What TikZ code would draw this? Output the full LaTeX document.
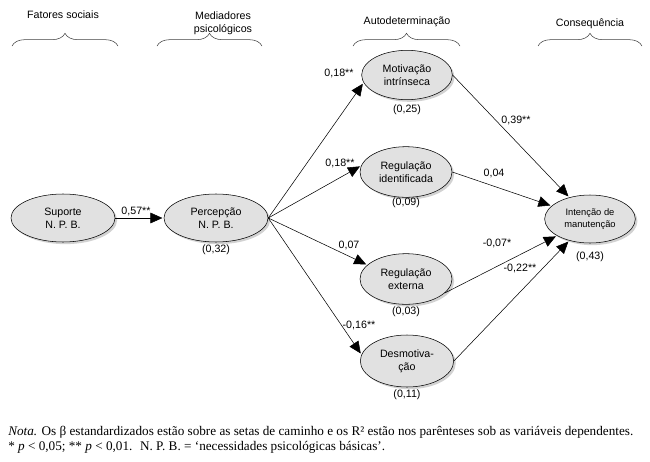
\documentclass[tikz,border=0pt]{standalone}
\usepackage{fontspec}
\setmainfont{Liberation Sans}
\newfontfamily\notefont{Liberation Serif}
\usepackage{tikz}
\usetikzlibrary{positioning,arrows.meta,shapes.geometric,shadows,decorations.pathreplacing}
\definecolor{latent}{RGB}{225,225,225}
\definecolor{shade}{RGB}{165,165,165}
\tikzset{
  var/.style={ellipse, draw, thin, fill=latent, align=center, inner sep=1pt,
    font=\fontsize{8}{9.5}\selectfont,
    drop shadow={shadow xshift=1.6pt, shadow yshift=-1.6pt, fill=shade}},
  beta/.style={-{Triangle[length=9pt,width=8pt]}, thin, shorten >=1pt},
  coef/.style={font=\fontsize{8}{9.5}\selectfont, inner sep=0pt},
  grp/.style={font=\fontsize{8}{9.5}\selectfont, align=center, inner sep=0pt},
  brc/.style={decorate, decoration={brace, amplitude=9.5pt}, thin, black!75},
}

\begin{document}
\begin{tikzpicture}[x=0.75pt, y=-0.75pt]
  \useasboundingbox (0,0) rectangle (650,461);
  % group headings
  \node[grp] (gFat) at (63,15) {Fatores sociais};
  \node[grp] (gMed) at (223,23) {Mediadores\\psicológicos};
  \node[grp] (gAut) at (407,22) {Autodeterminação};
  \node[grp] (gCon) at (590,24) {Consequência};
  \draw[brc] (12,46)--(118,46);
  \draw[brc] (157,46)--(262,46);
  \draw[brc] (353,46)--(460,46);
  \draw[brc] (538,46)--(642,46);
  % variables
  \node[var, minimum width=78pt, minimum height=36pt] (sup) at (63,218) {Suporte\\N. P. B.};
  \node[var, minimum width=78pt, minimum height=36pt] (per) at (216,218) {Percepção\\N. P. B.};
  \node[var, minimum width=68pt, minimum height=37pt] (mot) at (407,75) {Motivação\\intrínseca};
  \node[var, minimum width=69pt, minimum height=38pt] (rid) at (406,172) {Regulação\\identificada};
  \node[var, minimum width=69pt, minimum height=38pt] (rex) at (406,279) {Regulação\\externa};
  \node[var, minimum width=70pt, minimum height=39pt] (des) at (407,361) {Desmotiva-\\ção};
  \node[var, minimum width=68pt, minimum height=36pt, font=\fontsize{7}{8.5}\selectfont] (int) at (590,219) {Intenção de\\manutenção};
  % R2
  \node[coef] (perR) at (216,250) {(0,32)};
  \node[coef] (motR) at (407,110) {(0,25)};
  \node[coef] (ridR) at (406,203) {(0,09)};
  \node[coef] (rexR) at (406,312) {(0,03)};
  \node[coef] (desR) at (407,395) {(0,11)};
  \node[coef] (intR) at (590,257) {(0,43)};
  % paths
  \draw[beta] (sup) -- (per);
  \draw[beta] (per.east) -- (mot.190);
  \draw[beta] (per.east) -- (rid.172);
  \draw[beta] (per.east) -- (rex.160);
  \draw[beta] (per.east) -- (des.172);
  \draw[beta] (mot.east) -- (int);
  \draw[beta] (rid.east) -- (int);
  \draw[beta] (rex.-20) -- (int);
  \draw[beta] (des.east) -- (int);
  % coefficients
  \node[coef] (bSup) at (136,211) {0,57**};
  \node[coef] (bMot) at (339,73) {0,18**};
  \node[coef] (bRid) at (340,163) {0,18**};
  \node[coef] (bRex) at (349,245) {0,07};
  \node[coef] (bDes) at (359,325) {-0,16**};
  \node[coef] (bMotI) at (516,120) {0,39**};
  \node[coef] (bRidI) at (494,173) {0,04};
  \node[coef] (bRexI) at (497,243) {-0,07*};
  \node[coef] (bDesI) at (520,268) {-0,22**};
  % note
  \node[anchor=north west, align=left, inner sep=0pt, font=\notefont\fontsize{9.9}{11.3}\selectfont] (nota) at (8,426)
    {\textit{Nota.} Os β estandardizados estão sobre as setas de caminho e os R² estão nos parênteses sob as variáveis dependentes.\\
     * \textit{p} < 0,05; ** \textit{p} < 0,01.~ N. P. B. = ‘necessidades psicológicas básicas’.};
\end{tikzpicture}
\end{document}
